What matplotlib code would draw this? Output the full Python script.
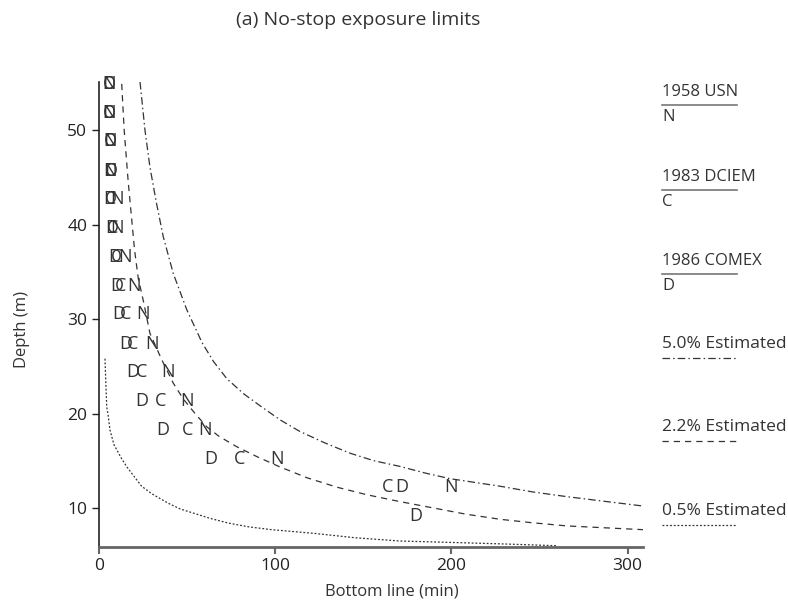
import matplotlib
matplotlib.use("Agg")
import matplotlib.pyplot as plt
from matplotlib.lines import Line2D

plt.rcParams['font.family'] = ['Open Sans', 'DejaVu Sans']

# Letter markers: depth (m) vs no-stop bottom time (min)
usn_depth = [12.2, 15.2, 18.3, 21.3, 24.4, 27.4, 30.5, 33.5, 36.6, 39.6, 42.7, 45.7, 48.8, 51.8, 54.9]
usn_time = [200, 101, 60, 50, 39, 30, 25, 20, 15, 10.5, 10, 6.5, 6, 5.5, 5.5]

dciem_depth = [12.2, 15.2, 18.3, 21.3, 24.4, 27.4, 30.5, 33.5, 36.6, 39.6, 42.7, 45.7, 48.8, 51.8, 54.9]
dciem_time = [164, 80, 50, 35, 24, 19, 15, 12, 10, 7.5, 6.5, 6.5, 6, 5.5, 5.5]

comex_depth = [9.1, 12.2, 15.2, 18.3, 21.3, 24.4, 27.4, 30.5, 33.5, 36.6, 39.6, 42.7, 45.7, 48.8, 51.8, 54.9]
comex_time = [180, 172, 63.5, 36, 24.5, 19, 15, 11.5, 10, 9, 7, 6, 6.5, 6, 5.5, 5.5]

# Estimated risk curves
p50_time = [23.3, 26.1, 28.9, 32.7, 36.5, 42.2, 49.8, 58.5, 65, 72.5, 82, 92.3, 103, 114,
            128, 142.4, 156, 170.8, 185, 199.2, 227.6, 246, 265.4, 287, 308.9]
p50_depth = [55.1, 50, 46.1, 42.2, 38.7, 34.8, 31.0, 27.5, 25.5, 23.7, 22.1, 20.7, 19.3, 18.1,
             16.9, 15.8, 15.0, 14.4, 13.7, 13.1, 12.3, 11.7, 11.2, 10.7, 10.2]

p22_time = [12.9, 14.3, 16.6, 20.2, 22.3, 25.1, 28.9, 35.6, 42.2, 48, 54.5, 61.1, 68, 78, 90,
            102, 118, 135, 152, 170, 189.7, 208, 227.6, 245, 265.4, 287, 308.9]
p22_depth = [54.9, 50, 44.5, 37.3, 34.3, 32, 28.5, 25.7, 23.2, 21.5, 20, 18.6, 17.6, 16.5, 15.4,
             14.4, 13.2, 12.2, 11.4, 10.7, 10.0, 9.35, 8.8, 8.45, 8.1, 7.9, 7.7]

p05_time = [3.4, 4.4, 5.3, 6.2, 8.5, 12.9, 16, 24.2, 30, 39.3, 46, 54.5, 63, 73.4, 85, 98,
            122.6, 145, 170.8, 200, 227.6, 260]
p05_depth = [25.8, 20.7, 19.7, 18.3, 16.7, 15.2, 14.3, 12.3, 11.5, 10.5, 9.9, 9.4, 8.9, 8.4,
             8.0, 7.7, 7.3, 6.85, 6.5, 6.35, 6.2, 6.0]

x_ticks = [0, 100, 200, 300]
y_ticks = [10, 20, 30, 40, 50]

dashdot = (0, (6, 2.5, 1.2, 2.5))
dashed = (0, (5, 4))
dotted = (0, (1.5, 1.5))
ink = '#333333'

fig = plt.figure(figsize=(7.88, 6.10), dpi=100)
ax = fig.add_axes([0.1256, 0.1038, 0.816 - 0.1256, 0.8656 - 0.1038])

ax.plot(p50_time, p50_depth, color=ink, lw=0.9, linestyle=dashdot)
ax.plot(p22_time, p22_depth, color=ink, lw=0.9, linestyle=dashed)
ax.plot(p05_time, p05_depth, color=ink, lw=0.9, linestyle=dotted)

for times, depths, letter in [(usn_time, usn_depth, 'N'),
                              (dciem_time, dciem_depth, 'C'),
                              (comex_time, comex_depth, 'D')]:
    for t, d in zip(times, depths):
        ax.text(t, d, letter, ha='center', va='center', fontsize=13, color=ink)

ax.set_xlim(0, 308.7)
ax.set_ylim(5.9, 55.1)
ax.set_xticks(x_ticks)
ax.set_yticks(y_ticks)
ax.tick_params(labelsize=12.5, colors='#222222', length=5, width=1)
ax.tick_params(axis='x', colors='#666666', labelcolor='#222222', width=1.5)

for s in ['top', 'right']:
    ax.spines[s].set_visible(False)
ax.spines['left'].set_color('#222222')
ax.spines['left'].set_linewidth(1.2)
ax.spines['bottom'].set_color('#666666')
ax.spines['bottom'].set_linewidth(2)

W, H = 788.0, 610.0
fig.text(358 / W, 1 - 20 / H, '(a) No-stop exposure limits', ha='center', va='center',
         fontsize=14, color=ink)
fig.text(392 / W, 1 - 592 / H, 'Bottom line (min)', ha='center', va='center',
         fontsize=12, color=ink)
fig.text(22 / W, 1 - 330 / H, 'Depth (m)', ha='center', va='center', rotation=90,
         fontsize=12, color=ink)

# right-hand key
key_names = ['1958 USN', '1983 DCIEM', '1986 COMEX']
key_letters = ['N', 'C', 'D']
key_lines_y = [105, 190, 274]
for name, letter, ly in zip(key_names, key_letters, key_lines_y):
    fig.text(662 / W, 1 - (ly - 13) / H, name, ha='left', va='center', fontsize=12, color=ink)
    fig.text(662 / W, 1 - (ly + 12) / H, letter, ha='left', va='center', fontsize=12, color=ink)
    fig.add_artist(Line2D([662 / W, 737 / W], [1 - ly / H] * 2, color='#777777', lw=1.2))

est_names = ['5.0% Estimated', '2.2% Estimated', '0.5% Estimated']
est_styles = [dashdot, dashed, dotted]
est_lines_y = [358, 441, 525]
for name, style, ly in zip(est_names, est_styles, est_lines_y):
    fig.text(662 / W, 1 - (ly - 14) / H, name, ha='left', va='center', fontsize=12.5, color=ink)
    fig.add_artist(Line2D([662 / W, 737 / W], [1 - ly / H] * 2, color=ink, lw=0.9,
                          linestyle=style))

fig.savefig('out.png', dpi=100, facecolor='white')
